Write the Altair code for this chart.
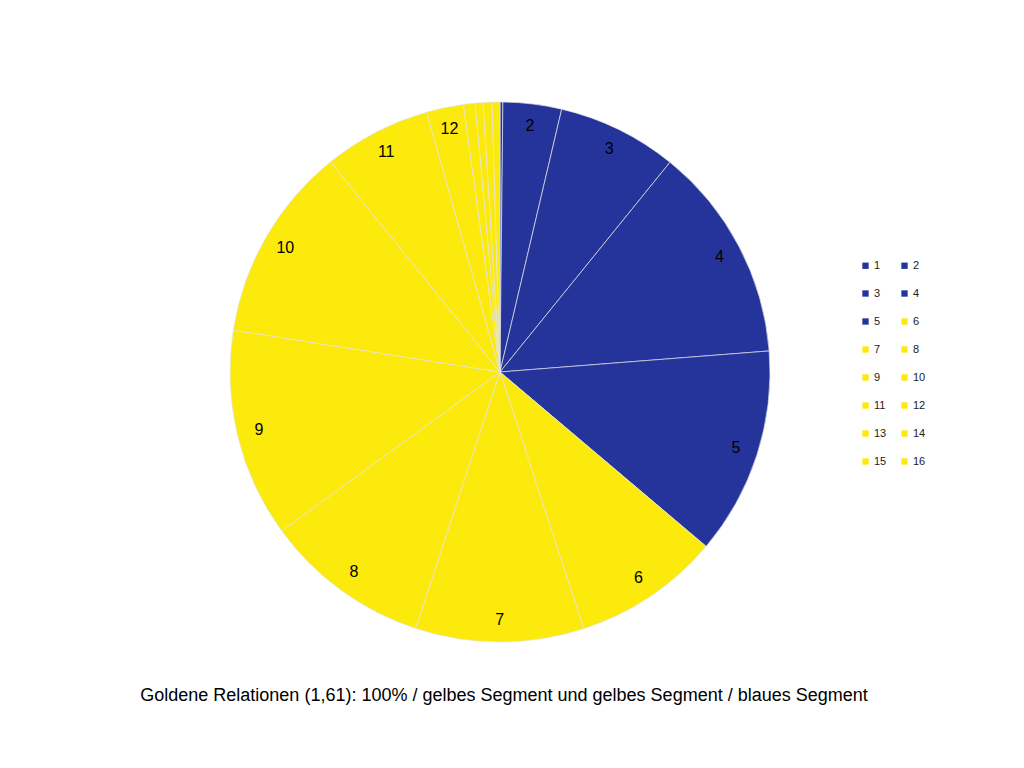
import altair as alt
import pandas as pd

segments = [str(i) for i in range(1, 17)]
order_idx = list(range(1, 17))
shares = [0.17, 3.50, 7.17, 12.92, 12.42, 8.81, 10.08, 9.92,
          12.50, 11.72, 6.42, 2.22, 0.69, 0.47, 0.53, 0.47]
labels = ["", "2", "3", "4", "5", "6", "7", "8", "9", "10", "11", "12", "", "", "", ""]

BLUE = "#25349a"
YELLOW = "#fcea0d"
color_of = {s: (BLUE if int(s) <= 5 else YELLOW) for s in segments}

# legend is filled column by column; order the domain so rows read 1 2 / 3 4 / ...
legend_order = segments[0::2] + segments[1::2]
palette = [color_of[s] for s in legend_order]

df = pd.DataFrame({"segment": segments, "idx": order_idx, "share": shares, "label": labels})

CX, CY, R = 487, 359, 270

base = alt.Chart(df).encode(
    theta=alt.Theta("share:Q", stack=True),
    order=alt.Order("idx:Q", sort="ascending"),
)

arcs = base.mark_arc(outerRadius=R, stroke="#e4e4e4", strokeWidth=0.7, strokeJoin="round").encode(
    color=alt.Color(
        "segment:N",
        scale=alt.Scale(domain=legend_order, range=palette),
        legend=alt.Legend(
            title=None,
            orient="none",
            legendX=847,
            legendY=247,
            columns=2,
            symbolType="square",
            symbolSize=40,
            symbolStrokeWidth=0,
            labelFontSize=11,
            labelFont="Liberation Sans",
            labelColor="#222222",
            labelOffset=3,
            rowPadding=16,
            columnPadding=12,
        ),
    ),
    x=alt.value(CX),
    y=alt.value(CY),
)

text = base.mark_text(radius=248, fontSize=16, font="Liberation Sans", color="black").encode(
    text="label:N",
    x=alt.value(CX),
    y=alt.value(CY),
)

chart = alt.layer(arcs, text).properties(
    width=982,
    height=663,
    title=alt.Title(
        "Goldene Relationen (1,61): 100% / gelbes Segment und gelbes Segment / blaues Segment",
        orient="bottom",
        anchor="middle",
        fontSize=18,
        font="Liberation Sans",
        fontWeight="normal",
        color="black",
        offset=11,
    ),
).configure_view(stroke=None)

chart.save("out.html", embed_options={"renderer": "svg", "actions": False})
